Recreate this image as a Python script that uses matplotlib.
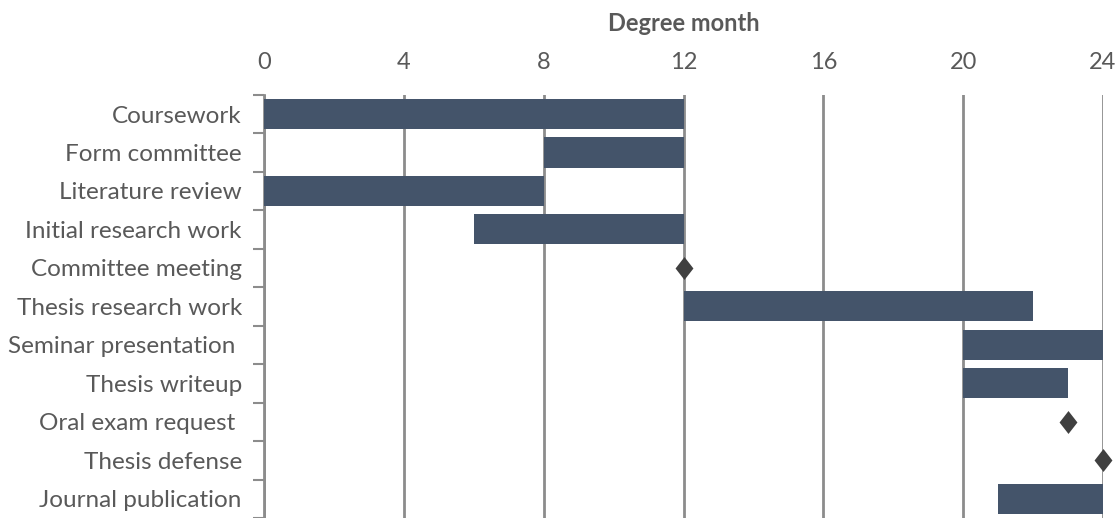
import matplotlib.pyplot as plt
from matplotlib.ticker import MultipleLocator

tasks = ["Coursework", "Form committee", "Literature review", "Initial research work",
         "Committee meeting", "Thesis research work", "Seminar presentation ",
         "Thesis writeup", "Oral exam request ", "Thesis defense", "Journal publication"]
starts = [0, 8, 0, 6, 12, 12, 20, 20, 23, 24, 21]
durations = [12, 4, 8, 6, 0, 10, 4, 3, 0, 0, 3]
x_ticks = [0, 4, 8, 12, 16, 20, 24]

bar_color = "#44546A"
text_color = "#595959"
grid_color = "#8C8C8C"

plt.rcParams["font.family"] = ["Lato", "DejaVu Sans"]

# diamond a bit taller than wide, like the Excel milestone marker
diamond = [(0, 1), (0.78, 0), (0, -1), (-0.78, 0), (0, 1)]

fig = plt.figure(figsize=(11.2, 5.18), dpi=100)
ax = fig.add_axes([264 / 1120, 0.0, (1103 - 264) / 1120, 0.817])

ypos = list(range(len(tasks)))
for y, s, d in zip(ypos, starts, durations):
    if d > 0:
        ax.barh(y, d, left=s, height=0.78, color=bar_color, zorder=3)
    else:
        # milestone
        ax.plot(s, y, marker=diamond, markersize=16.5, color="#404040",
                markeredgewidth=0, zorder=4, clip_on=False)

ax.set_xlim(0, 24)
ax.set_ylim(len(tasks) - 0.5, -0.5)
ax.set_xticks(x_ticks)
ax.xaxis.tick_top()
ax.xaxis.set_label_position("top")
ax.set_xlabel("Degree month", fontsize=17, fontweight="bold", color=text_color, labelpad=15)
ax.tick_params(axis="x", length=0, labelsize=17, labelcolor=text_color, pad=15.5)

ax.set_yticks(ypos)
ax.set_yticklabels(tasks)
ax.yaxis.set_minor_locator(MultipleLocator(1, offset=0.5))
ax.tick_params(axis="y", which="major", length=0, labelsize=17.5, labelcolor=text_color, pad=16)
ax.tick_params(axis="y", which="minor", length=8, width=1.5, color=grid_color)

ax.grid(axis="x", color=grid_color, linewidth=2, zorder=0)
for side in ["top", "right", "bottom"]:
    ax.spines[side].set_visible(False)
ax.spines["left"].set_color(grid_color)
ax.spines["left"].set_linewidth(2)

fig.savefig("out.png", dpi=100)
